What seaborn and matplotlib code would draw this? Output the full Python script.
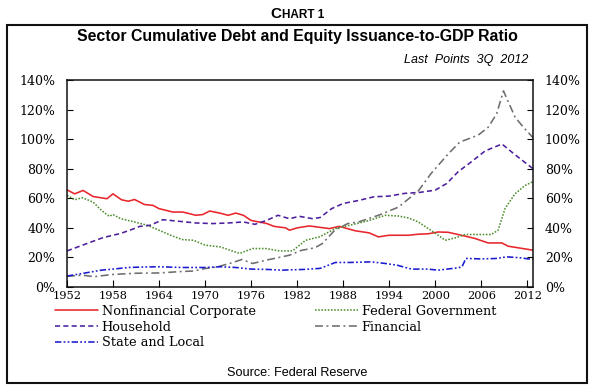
import matplotlib
matplotlib.use("Agg")
import matplotlib.pyplot as plt
import matplotlib.patches as mpatches
import seaborn as sns
import pandas as pd

# ---------------- data ----------------
nonfin_years = [1952, 1953, 1954.1, 1955.4, 1957.2, 1958, 1959.1, 1960, 1960.8, 1962.1, 1963.2,
                1964, 1965.8, 1967.1, 1968.8, 1969.7, 1970.6, 1971.9, 1973, 1974, 1975, 1976,
                1978, 1979, 1980.5, 1981, 1982, 1983.6, 1986.2, 1987.5, 1989.6, 1991.4, 1992.6,
                1994, 1996.5, 1997.8, 1999.1, 2000.4, 2001.7, 2003.4, 2005.2, 2006.9, 2008.7,
                2009.5, 2012.75]
nonfin_vals = [65.7, 63, 65.3, 61.2, 59.7, 63, 59, 58, 59.2, 55.8, 55.2,
               53, 50.7, 50.7, 48.5, 49, 51.4, 50, 48.5, 50, 48.5, 45,
               43, 41, 40, 38.4, 40, 41.3, 39.5, 41, 38, 36.6, 33.9,
               35, 35, 35.7, 36, 37.2, 37, 35, 32.8, 29.8, 29.8,
               27.6, 24.9]

fedgov_years = [1952, 1953, 1954, 1955.4, 1956.5, 1957.5, 1958, 1959, 1960.8, 1962.5, 1964,
                1965.5, 1967, 1968.5, 1970, 1972, 1974.5, 1976.2, 1977.9, 1979.7, 1981.4,
                1983.1, 1984.9, 1987, 1988.8, 1991.4, 1993.5, 1995.2, 1996.5, 1997.8, 1999.1,
                2000.4, 2001.3, 2002.6, 2003.9, 2005.6, 2007.3, 2008.2, 2009.1, 2010.4, 2011.7,
                2012.75]
fedgov_vals = [62, 59, 60.4, 57.4, 51.8, 47.8, 49, 46.2, 44, 41.7, 38.4,
               35, 32.1, 31.6, 28.3, 27.1, 22.7, 26, 26, 24.4, 24.4,
               31.6, 33.9, 39.5, 41.7, 45, 48.5, 48, 46.7, 44, 39.5,
               35, 31.6, 33.2, 35.5, 35.5, 35.5, 38.4, 53, 63, 68.6,
               71.3]

house_years = [1952, 1954.6, 1956.7, 1958.9, 1960.2, 1961.5, 1962.8, 1964.5, 1966.7, 1968.8,
               1971, 1973, 1975, 1976.5, 1978, 1979.5, 1981, 1982.3, 1984, 1985, 1986.5,
               1988, 1990, 1992, 1994, 1996, 1998, 2000, 2001.5, 2003, 2004.8, 2006.5, 2008.7,
               2010.4, 2012.75]
house_vals = [24.4, 29.4, 33.4, 36.1, 38.4, 41, 41.7, 45.5, 44.4, 43.3,
              42.9, 43.3, 44, 42.4, 45, 48.5, 46.2, 47.8, 46.2, 47, 53,
              56.5, 58.5, 61, 61.5, 63.3, 64, 65.5, 70, 78, 85, 92, 96.7,
              89.5, 80]

fin_years = [1952, 1954, 1955.5, 1958, 1961, 1964, 1967, 1968.5, 1970, 1971.5, 1973.2,
             1974.8, 1976.2, 1978, 1979.5, 1981, 1982.5, 1984.3, 1985.3, 1986.9, 1988.6,
             1990, 1992.6, 1995.2, 1997.8, 1999.5, 2001.7, 2003.2, 2005.6, 2006.9, 2008,
             2008.9, 2010.4, 2011.5, 2012.75]
fin_vals = [7.2, 8, 7, 8.5, 9.3, 9.5, 10.5, 10.8, 12.5, 13.5, 15.9,
            18.6, 15.9, 18.2, 19.8, 21.5, 24.7, 26.5, 29.4, 38.4, 42.9,
            44, 48.5, 54, 65, 77, 90, 98, 102.7, 108, 117,
            132.6, 115, 108, 101]

state_years = [1952, 1954.5, 1956.5, 1958, 1960, 1962, 1964, 1967, 1970, 1972, 1974, 1976,
               1978, 1980, 1983, 1985, 1987, 1989, 1991.7, 1993.5, 1995, 1996.9, 1999,
               2000.4, 2003, 2003.5, 2004, 2006, 2008, 2009.3, 2011, 2012.75]
state_vals = [7.4, 9.6, 11.4, 12.1, 13.2, 13.5, 13.7, 13.2, 13.2, 13.7, 13.2, 12.1,
              11.9, 11.4, 11.9, 12.6, 16.6, 16.6, 17, 15.9, 14.8, 12.1, 12.1,
              11.4, 13, 13.7, 19.3, 19, 19.3, 20.4, 19.8, 18.6]

series_names = ["Nonfinancial Corporate", "Federal Government", "Household",
                "Financial", "State and Local"]
x_ticks = [1952, 1958, 1964, 1970, 1976, 1982, 1988, 1994, 2000, 2006, 2012]
y_ticks = [0, 20, 40, 60, 80, 100, 120, 140]

# ---------------- long table ----------------
frames = []
for name, xs, ys in zip(series_names,
                        [nonfin_years, fedgov_years, house_years, fin_years, state_years],
                        [nonfin_vals, fedgov_vals, house_vals, fin_vals, state_vals]):
    frames.append(pd.DataFrame({"year": xs, "value": ys, "series": name}))
df = pd.concat(frames, ignore_index=True)

palette = {"Nonfinancial Corporate": "#e8262b",
           "Federal Government": "#4f8f2f",
           "Household": "#4d1f9e",
           "Financial": "#6e6e6e",
           "State and Local": "#1a1ad0"}
dashes = {"Nonfinancial Corporate": "",
          "Federal Government": (1, 1),
          "Household": (3.2, 2),
          "Financial": (5, 2.2, 1.2, 2.2),
          "State and Local": (4, 1.4, 1.1, 1.4, 1.1, 1.4)}

sns.set_theme(style="white")
plt.rcParams["font.family"] = ["DejaVu Serif"]
plt.rcParams["text.color"] = "black"
plt.rcParams["xtick.color"] = "black"
plt.rcParams["ytick.color"] = "black"
plt.rcParams["axes.labelcolor"] = "black"

fig = plt.figure(figsize=(5.94, 3.87), dpi=100)
ax = fig.add_axes([67 / 594, 1 - 287 / 387, 466 / 594, 207 / 387])

sns.lineplot(data=df, x="year", y="value", hue="series", style="series",
             hue_order=series_names, style_order=series_names,
             palette=palette, dashes=dashes, estimator=None, sort=True,
             linewidth=1.15, legend=False, ax=ax)

ax.set_xlim(1952, 2012.75)
ax.set_ylim(0, 140)
ax.set_xticks(x_ticks)
ax.set_yticks(y_ticks)
ax.set_xticklabels([str(t) for t in x_ticks], family="DejaVu Serif", color="black")
ax.set_yticklabels([f"{t}%" for t in y_ticks], family="DejaVu Serif", color="black")
ax.set_xlabel("")
ax.set_ylabel("")
for s in ax.spines.values():
    s.set_visible(True)
    s.set_color("#111111")
    s.set_linewidth(1.1)
ax.tick_params(axis="x", direction="in", length=5, width=0.8, pad=3,
               labelsize=8.2, colors="black", top=False, bottom=True)
ax.tick_params(axis="y", direction="in", length=4, width=0.8, left=True, right=True,
               labelleft=True, labelright=True, labelsize=9, colors="black", pad=8.5)
ax.grid(False)
ax.set_facecolor("white")

# ---------------- texts ----------------
sans = ["Liberation Sans", "DejaVu Sans"]
fig.text(281.5 / 594, 1 - 17.5 / 387, "C", ha="right", va="baseline",
         fontsize=11, fontweight="bold", family=sans, color="black")
fig.text(281.5 / 594, 1 - 17.5 / 387, "HART 1", ha="left", va="baseline",
         fontsize=8.5, fontweight="bold", family=sans, color="black")
fig.text(297 / 594, 1 - 36 / 387, "Sector Cumulative Debt and Equity Issuance-to-GDP Ratio",
         ha="center", va="center", fontsize=11.4, fontweight="bold", family=sans, color="black")
fig.text(528 / 594, 1 - 60 / 387, "Last  Points  3Q  2012", ha="right", va="center",
         fontsize=9, style="italic", family=sans, color="black")
fig.text(297.5 / 594, 1 - 373 / 387, "Source: Federal Reserve", ha="center", va="center",
         fontsize=9.1, family=sans, color="black")

# ---------------- legend ----------------
lines = ax.get_lines()
handles = {name: lines[i] for i, name in enumerate(series_names)}
leg_kw = dict(frameon=False, loc="upper left", borderpad=0, borderaxespad=0,
              handlelength=3.3, handletextpad=0.3, labelspacing=0.2,
              prop={"family": "DejaVu Serif", "size": 9.3})
leg1 = fig.legend([handles[n] for n in ["Nonfinancial Corporate", "Household", "State and Local"]],
                  ["Nonfinancial Corporate", "Household", "State and Local"],
                  bbox_to_anchor=(55 / 594, 1 - 305 / 387), **leg_kw)
leg2 = fig.legend([handles[n] for n in ["Federal Government", "Financial"]],
                  ["Federal Government", "Financial"],
                  bbox_to_anchor=(315 / 594, 1 - 305 / 387), **leg_kw)
for lg in (leg1, leg2):
    for t in lg.get_texts():
        t.set_color("black")

# ---------------- frame ----------------
fig.patches.append(mpatches.Rectangle((7 / 594, 1 - 383 / 387), 580 / 594, 358 / 387,
                                      transform=fig.transFigure, fill=False,
                                      edgecolor="#111111", linewidth=1.5))

fig.savefig("out.png", dpi=100, facecolor="white")
